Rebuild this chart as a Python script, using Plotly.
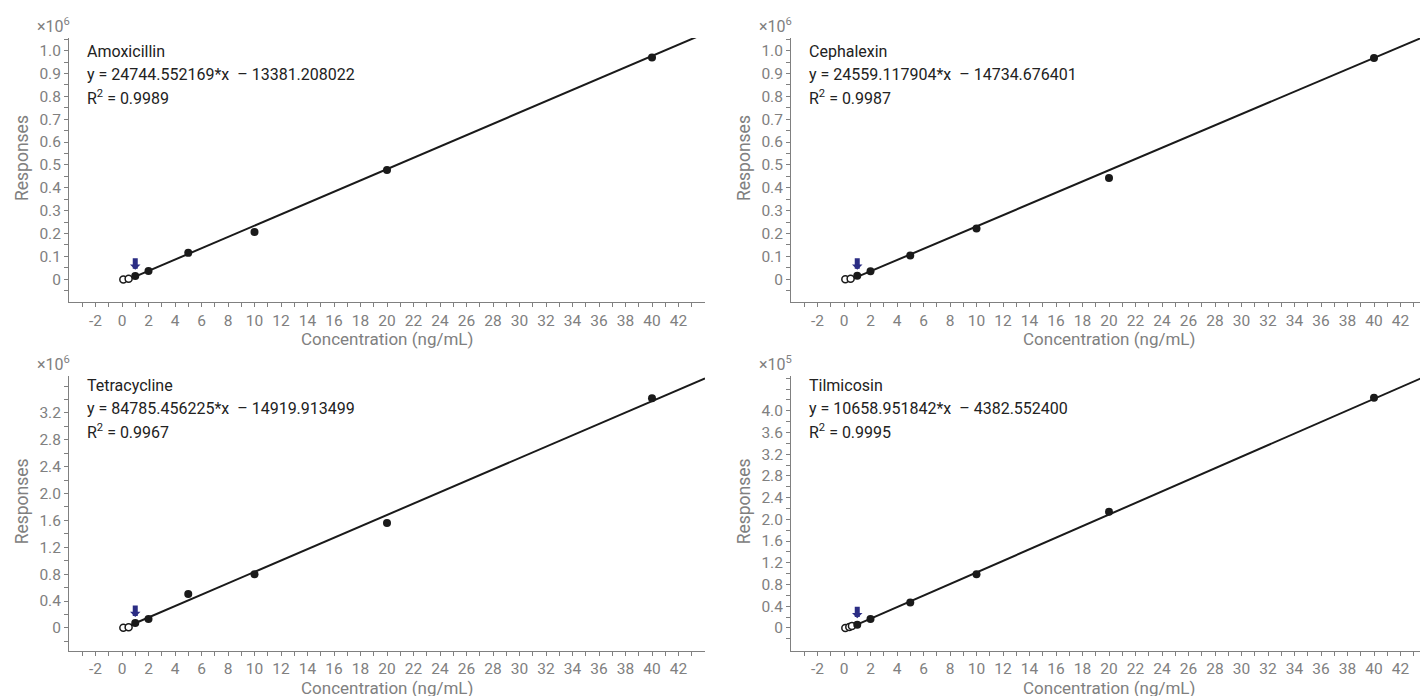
import plotly.graph_objects as go

W, H = 1428, 696

compounds = ["Amoxicillin", "Cephalexin", "Tetracycline", "Tilmicosin"]
slopes = [24744.552169, 24559.117904, 84785.456225, 10658.951842]
intercepts = [-13381.208022, -14734.676401, -14919.913499, -4382.552400]
eq_text = [
    "y = 24744.552169*x\u00a0\u00a0– 13381.208022",
    "y = 24559.117904*x\u00a0\u00a0– 14734.676401",
    "y = 84785.456225*x\u00a0\u00a0– 14919.913499",
    "y = 10658.951842*x\u00a0\u00a0– 4382.552400",
]
r2_values = ["0.9989", "0.9987", "0.9967", "0.9995"]
exponents = [6, 6, 6, 5]

# calibration levels used (filled) and excluded (open)
cal_conc = [1, 2, 5, 10, 20, 40]
amox_resp = [14000, 36000, 115000, 206000, 478000, 970000]
ceph_resp = [15000, 34000, 103000, 222000, 443000, 968000]
tetra_resp = [73000, 132000, 505000, 800000, 1560000, 3420000]
tilm_resp = [6000, 16400, 47000, 99000, 214000, 424000]
filled_resp = [amox_resp, ceph_resp, tetra_resp, tilm_resp]

amox_open_x = [0.1, 0.5]
amox_open_y = [-2000, 2000]
ceph_open_x = [0.1, 0.5]
ceph_open_y = [0, 2000]
tetra_open_x = [0.1, 0.5]
tetra_open_y = [0, 10000]
tilm_open_x = [0.1, 0.4, 0.6]
tilm_open_y = [0, 1700, 3500]
open_x = [amox_open_x, ceph_open_x, tetra_open_x, tilm_open_x]
open_y = [amox_open_y, ceph_open_y, tetra_open_y, tilm_open_y]

# LOQ marker (arrow) position: concentration and tip response
loq_conc = [1, 1, 1, 1]
loq_tip = [41000, 41000, 162000, 18000]

fit_x = [0.5, 44]

# axes
x_range = [-4, 44]
x_tickvals = list(range(-3, 44))
x_ticktext = [str(v) if v % 2 == 0 and v <= 42 else "" for v in x_tickvals]

y_ranges = [[-100000, 1055000], [-100000, 1055000], [-340000, 3750000], [-42000, 464000]]
y_tick_step = [50000, 50000, 200000, 20000]
y_label_step = [100000, 100000, 400000, 40000]
y_tick_lo = [-50000, -50000, -200000, -20000]
y_tick_hi = [1050000, 1050000, 3600000, 460000]
y_label_hi = [1000000, 1000000, 3200000, 400000]

# layout geometry (pixels)
x_dom_px = [(61, 697), (783, 1419), (61, 697), (783, 1419)]
y_dom_px = [(30, 294), (30, 294), (368, 642.7), (368, 642.7)]
text_row0 = [43, 43, 377, 377]
text_row_gap = 23

GRAY = "#808080"
DARK = "#222222"
PT = "#1a1a1a"
ARROW = "#2b2d84"
FONT = "Roboto"

fig = go.Figure()
annotations = []
layout = dict(
    width=W, height=H,
    margin=dict(l=0, r=0, t=0, b=0, autoexpand=False),
    paper_bgcolor="white", plot_bgcolor="white",
    showlegend=False,
    font=dict(family=FONT, size=15, color=GRAY),
)

for i in range(4):
    n = "" if i == 0 else str(i + 1)
    xa, ya = "x" + n, "y" + n
    sl, ic = slopes[i], intercepts[i]

    fig.add_trace(go.Scatter(
        x=fit_x, y=[sl * v + ic for v in fit_x], mode="lines",
        line=dict(color=PT, width=2), xaxis=xa, yaxis=ya, hoverinfo="skip"))
    fig.add_trace(go.Scatter(
        x=open_x[i], y=open_y[i], mode="markers",
        marker=dict(size=7, color="white", line=dict(color=PT, width=1.5)),
        xaxis=xa, yaxis=ya))
    fig.add_trace(go.Scatter(
        x=cal_conc, y=filled_resp[i], mode="markers",
        marker=dict(size=8, color=PT, line=dict(width=0)),
        xaxis=xa, yaxis=ya))

    x0, x1 = x_dom_px[i]
    y0, y1 = y_dom_px[i]

    scale = 10 ** exponents[i]
    yt = list(range(y_tick_lo[i], y_tick_hi[i] + 1, y_tick_step[i]))
    ytxt = []
    for v in yt:
        if v >= 0 and v <= y_label_hi[i] and v % y_label_step[i] == 0:
            ytxt.append("0" if v == 0 else "%.1f" % (v / scale))
        else:
            ytxt.append("")

    axis_common = dict(
        showline=True, linecolor=GRAY, linewidth=1,
        ticks="outside", ticklen=4, tickwidth=1, tickcolor=GRAY,
        showgrid=False, zeroline=False, automargin=False,
        tickfont=dict(family=FONT, size=15.5, color=GRAY),
    )
    layout["xaxis" + n] = dict(
        axis_common, domain=[x0 / W, x1 / W], range=x_range,
        tickmode="array", tickvals=x_tickvals, ticktext=x_ticktext,
        anchor=ya)
    layout["yaxis" + n] = dict(
        axis_common, domain=[1 - y1 / H, 1 - y0 / H], range=y_ranges[i],
        tickmode="array", tickvals=yt, ticktext=ytxt, anchor=xa)

    # text block
    tx = x0 + 16
    for k, txt in enumerate([compounds[i], eq_text[i], "R<sup>2</sup> = " + r2_values[i]]):
        annotations.append(dict(
            xref="paper", yref="paper", x=tx / W,
            y=1 - (text_row0[i] + text_row_gap * k) / H,
            xanchor="left", yanchor="middle", text=txt, showarrow=False,
            font=dict(family=FONT, size=16, color=DARK)))
    # exponent
    annotations.append(dict(
        xref="paper", yref="paper", x=(x0 + 3) / W, y=1 - (y0 - 13) / H,
        xanchor="right", yanchor="middle",
        text="×10<sup>%d</sup>" % exponents[i], showarrow=False,
        font=dict(family=FONT, size=16, color=GRAY)))
    # axis titles
    annotations.append(dict(
        xref="paper", yref="paper", x=(x0 + x1) / 2 / W, y=1 - (y1 + 37) / H,
        xanchor="center", yanchor="middle", text="Concentration (ng/mL)",
        showarrow=False, font=dict(family=FONT, size=17, color=GRAY)))
    annotations.append(dict(
        xref="paper", yref="paper", x=(x0 - 47) / W, y=1 - ((y0 + y1) / 2 - 12) / H,
        xanchor="center", yanchor="middle", text="Responses", textangle=-90,
        showarrow=False, font=dict(family=FONT, size=17.5, color=GRAY)))
    # LOQ arrow
    annotations.append(dict(
        xref=xa, yref=ya, x=loq_conc[i], y=loq_tip[i], ax=0, ay=-13,
        text="", showarrow=True, arrowhead=1, arrowsize=0.35, arrowwidth=5,
        arrowcolor=ARROW, standoff=0))

layout["annotations"] = annotations
fig.update_layout(**layout)
fig.write_html("out.html")
